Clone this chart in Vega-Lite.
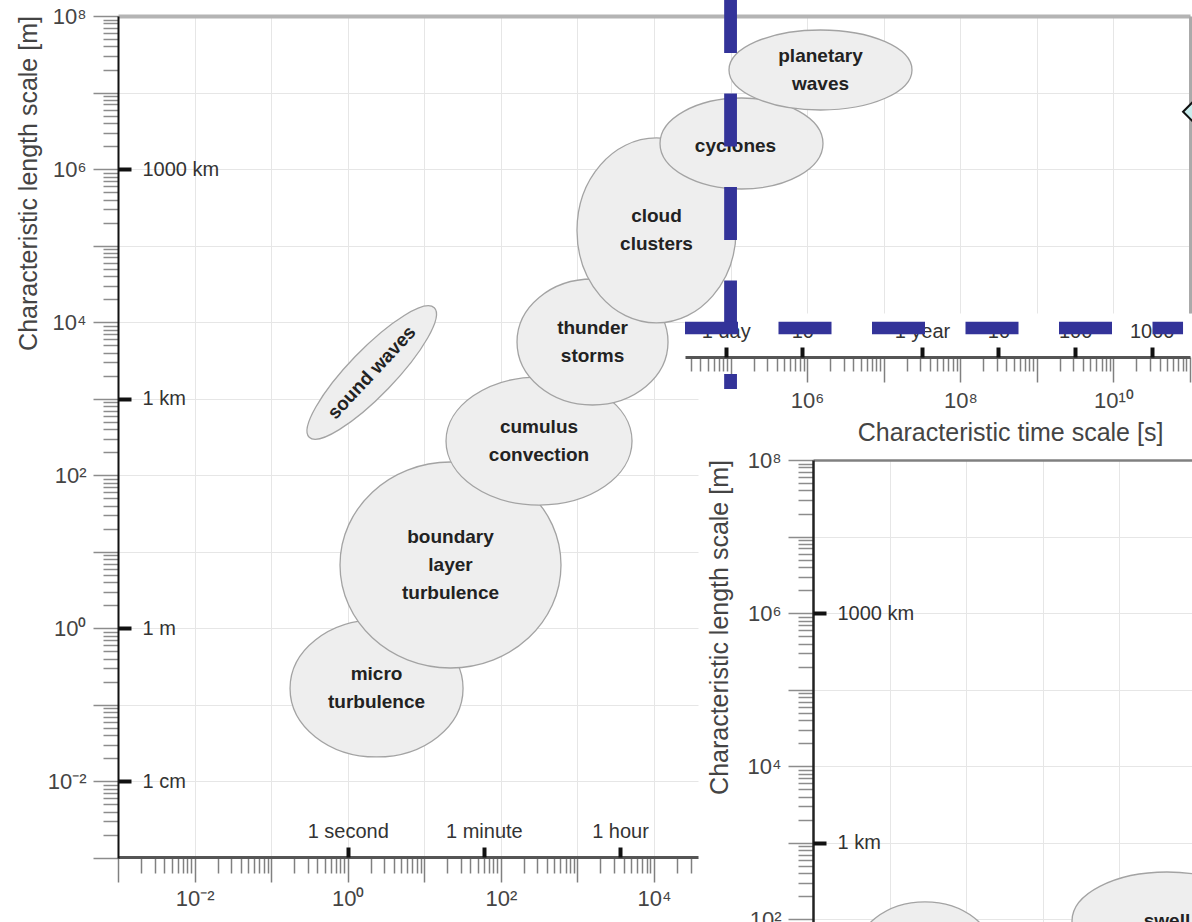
{
  "$schema": "https://vega.github.io/schema/vega-lite/v6.json",
  "width": 1192,
  "height": 922,
  "autosize": {"type": "none"},
  "padding": 0,
  "background": "white",
  "config": {
    "view": {"stroke": null},
    "font": "Liberation Sans",
    "axis": {"labelFont": "Liberation Sans", "titleFont": "Liberation Sans", "labelFlush": false, "labelOverlap": false}
  },
  "datasets": {
    "atmos": [
      {"name": "sound waves", "label": "sound waves", "t": 2.06, "l": 2200},
      {"name": "micro turbulence", "label": "micro\nturbulence", "t": 2.38, "l": 0.164},
      {"name": "boundary layer turbulence", "label": "boundary\nlayer\nturbulence", "t": 22.0, "l": 6.73},
      {"name": "cumulus convection", "label": "cumulus\nconvection", "t": 315, "l": 280},
      {"name": "thunder storms", "label": "thunder\nstorms", "t": 1574, "l": 5510},
      {"name": "cloud clusters", "label": "cloud\nclusters", "t": 10780, "l": 157800},
      {"name": "cyclones", "label": "cyclones", "t": 138900, "l": 2159000},
      {"name": "planetary waves", "label": "planetary\nwaves", "t": 1494000, "l": 19710000}
    ],
    "ocean": [
      {"name": "wind waves", "label": "", "t": 0.029, "l": 32.2},
      {"name": "swell", "label": "swell", "t": 42, "l": 95}
    ],
    "marker": [{"t": 120000000000, "l": 5620000}],
    "guideV": [{"t": 100000, "top": 161800000, "bottom": 1340}],
    "guideH": [{"start": 25410, "end": 81100000000, "l": 8395}]
  },
  "resolve": {
    "scale": {"x": "independent", "y": "independent", "shape": "independent"},
    "axis": {"x": "independent", "y": "independent"}
  },
  "layer": [
    {
      "data": {"name": "atmos"},
      "mark": {"type": "point", "filled": true, "fill": "#eeeeee", "stroke": "#a3a3a3", "strokeWidth": 1.3, "opacity": 1, "size": 4},
      "encoding": {
        "x": {
          "field": "t", "type": "quantitative",
          "scale": {"type": "log", "domain": [0.001, 37550], "range": [118, 698], "nice": false},
          "axis": {
            "orient": "top", "offset": -16,
            "values": [0.001, 0.01, 0.1, 1, 10, 100, 1000, 10000],
            "domain": false, "ticks": false, "labels": false,
            "grid": true, "gridColor": "#e6e6e6", "gridWidth": 1,
            "title": null
          }
        },
        "y": {
          "field": "l", "type": "quantitative",
          "scale": {"type": "log", "domain": [0.001, 100000000], "range": [858, 16], "nice": false},
          "axis": {
            "orient": "left", "offset": -118, "tickCount": 30,
            "domain": true, "domainColor": "#111111", "domainWidth": 2,
            "ticks": true, "tickColor": "#8c8c8c", "tickWidth": 1.5,
            "tickSize": {"condition": {"test": "abs(log(datum.value) / LN10 - round(log(datum.value) / LN10)) < 0.001", "value": 25}, "value": 15},
            "labelExpr": "datum.value == 100000000 ? '10⁸' : datum.value == 1000000 ? '10⁶' : datum.value == 10000 ? '10⁴' : datum.value == 100 ? '10²' : datum.value == 1 ? '10⁰' : datum.value == 0.01 ? '10⁻²' : ''",
            "labelFontSize": 22, "labelColor": "#444444", "labelPadding": 7, "labelBaseline": "middle",
            "grid": true, "gridColor": "#e6e6e6", "gridWidth": 1,
            "gridOpacity": {"condition": {"test": "abs(log(datum.value) / LN10 - round(log(datum.value) / LN10)) < 0.001", "value": 1}, "value": 0},
            "title": "Characteristic length scale [m]", "titleFontSize": 25, "titleFontWeight": "normal", "titleColor": "#444444",
            "titleX": -90, "titleY": 183, "titleAngle": 270, "titleBaseline": "middle"
          }
        },
        "shape": {
          "field": "name", "type": "nominal", "legend": null,
          "scale": {
            "domain": ["sound waves", "micro turbulence", "boundary layer turbulence", "cumulus convection", "thunder storms", "cloud clusters", "cyclones", "planetary waves"],
            "range": [
              "M-90,0A90,23 0 1 0 90,0A90,23 0 1 0 -90,0Z",
              "M-86.5,0A86.5,68.5 0 1 0 86.5,0A86.5,68.5 0 1 0 -86.5,0Z",
              "M-110.5,0A110.5,103 0 1 0 110.5,0A110.5,103 0 1 0 -110.5,0Z",
              "M-93,0A93,64 0 1 0 93,0A93,64 0 1 0 -93,0Z",
              "M-75.5,0A75.5,63 0 1 0 75.5,0A75.5,63 0 1 0 -75.5,0Z",
              "M-79.5,0A79.5,92.5 0 1 0 79.5,0A79.5,92.5 0 1 0 -79.5,0Z",
              "M-81.5,0A81.5,45.5 0 1 0 81.5,0A81.5,45.5 0 1 0 -81.5,0Z",
              "M-91.5,0A91.5,40 0 1 0 91.5,0A91.5,40 0 1 0 -91.5,0Z"
            ]
          }
        },
        "angle": {"condition": {"test": "datum.name === 'sound waves'", "value": -46}, "value": 0}
      }
    },
    {
      "data": {"name": "atmos"},
      "transform": [{"filter": {"field": "name", "oneOf": ["micro turbulence", "cumulus convection", "thunder storms", "cloud clusters", "planetary waves"]}}],
      "mark": {"type": "text", "font": "Liberation Sans", "fontWeight": "bold", "fontSize": 19, "lineHeight": 28, "lineBreak": "\n", "align": "center", "baseline": "middle", "dy": -14, "color": "#222222"},
      "encoding": {
        "x": {
          "field": "t", "type": "quantitative",
          "scale": {"type": "log", "domain": [0.001, 37550], "range": [118, 698], "nice": false},
          "axis": {
            "orient": "bottom", "offset": -65, "tickCount": 30,
            "domain": true, "domainColor": "#555555", "domainWidth": 3,
            "ticks": true, "tickColor": "#808080", "tickWidth": 1.5,
            "tickSize": {"condition": {"test": "abs(log(datum.value) / LN10 - round(log(datum.value) / LN10)) < 0.001", "value": 25}, "value": 16},
            "labelExpr": "datum.value == 0.01 ? '10⁻²' : datum.value == 1 ? '10⁰' : datum.value == 100 ? '10²' : datum.value == 10000 ? '10⁴' : ''",
            "labelFontSize": 22, "labelColor": "#444444", "labelPadding": 6,
            "grid": false,
            "title": null
          }
        },
        "y": {
          "field": "l", "type": "quantitative",
          "scale": {"type": "log", "domain": [0.001, 100000000], "range": [858, 16], "nice": false},
          "axis": {
            "orient": "right", "offset": -1074, "values": [1000000, 1000, 1, 0.01],
            "labelExpr": "datum.value == 1000000 ? '1000 km' : datum.value == 1000 ? '1 km' : datum.value == 1 ? '1 m' : '1 cm'",
            "domain": false, "grid": false,
            "ticks": true, "tickSize": 13, "tickWidth": 4, "tickColor": "#111111",
            "labelFontSize": 20, "labelColor": "#333333", "labelPadding": 11, "labelBaseline": "middle",
            "title": null
          }
        },
        "text": {"field": "label", "type": "nominal"}
      }
    },
    {
      "data": {"name": "atmos"},
      "transform": [{"filter": {"field": "name", "oneOf": ["boundary layer turbulence"]}}],
      "mark": {"type": "text", "font": "Liberation Sans", "fontWeight": "bold", "fontSize": 19, "lineHeight": 28, "lineBreak": "\n", "align": "center", "baseline": "middle", "dy": -28, "color": "#222222"},
      "encoding": {
        "x": {
          "field": "t", "type": "quantitative",
          "scale": {"type": "log", "domain": [0.001, 37550], "range": [118, 698], "nice": false},
          "axis": {
            "orient": "top", "offset": -857, "values": [1, 60, 3600],
            "labelExpr": "datum.value == 1 ? '1 second' : datum.value == 60 ? '1 minute' : '1 hour'",
            "domain": false, "grid": false,
            "ticks": true, "tickSize": 10, "tickWidth": 4, "tickColor": "#111111",
            "labelFontSize": 20, "labelColor": "#333333", "labelPadding": 6,
            "title": null
          }
        },
        "y": {
          "field": "l", "type": "quantitative",
          "scale": {"type": "log", "domain": [0.001, 100000000], "range": [858, 16], "nice": false},
          "axis": null
        },
        "text": {"field": "label", "type": "nominal"}
      }
    },
    {
      "data": {"name": "atmos"},
      "transform": [{"filter": {"field": "name", "oneOf": ["cyclones"]}}],
      "mark": {"type": "text", "font": "Liberation Sans", "fontWeight": "bold", "fontSize": 19, "align": "center", "baseline": "middle", "dx": -6, "dy": 2.5, "color": "#222222"},
      "encoding": {
        "x": {
          "field": "t", "type": "quantitative",
          "scale": {"type": "log", "domain": [0.001, 37550], "range": [118, 698], "nice": false},
          "axis": null
        },
        "y": {
          "field": "l", "type": "quantitative",
          "scale": {"type": "log", "domain": [0.001, 100000000], "range": [858, 16], "nice": false},
          "axis": null
        },
        "text": {"field": "label", "type": "nominal"}
      }
    },
    {
      "data": {"name": "atmos"},
      "transform": [{"filter": {"field": "name", "oneOf": ["sound waves"]}}],
      "mark": {"type": "text", "font": "Liberation Sans", "fontWeight": "bold", "fontSize": 19, "align": "center", "baseline": "middle", "angle": 313, "color": "#222222"},
      "encoding": {
        "x": {
          "field": "t", "type": "quantitative",
          "scale": {"type": "log", "domain": [0.001, 37550], "range": [118, 698], "nice": false},
          "axis": null
        },
        "y": {
          "field": "l", "type": "quantitative",
          "scale": {"type": "log", "domain": [0.001, 100000000], "range": [858, 16], "nice": false},
          "axis": null
        },
        "text": {"field": "label", "type": "nominal"}
      }
    },
    {
      "data": {"name": "ocean"},
      "mark": {"type": "point", "filled": true, "fill": "#eeeeee", "stroke": "#a3a3a3", "strokeWidth": 1.3, "opacity": 1, "size": 4},
      "encoding": {
        "x": {
          "field": "t", "type": "quantitative",
          "scale": {"type": "log", "domain": [0.001, 89.07], "range": [813, 1192], "nice": false},
          "axis": {
            "orient": "top", "offset": -460, "values": [0.001, 0.01, 0.1, 1, 10],
            "ticks": false, "labels": false,
            "domain": true, "domainColor": "#808080", "domainWidth": 2.5,
            "grid": true, "gridColor": "#e6e6e6", "gridWidth": 1,
            "title": null
          }
        },
        "y": {
          "field": "l", "type": "quantitative",
          "scale": {"type": "log", "domain": [92.2, 100000000], "range": [922, 460], "nice": false},
          "axis": {
            "orient": "left", "offset": -813, "tickCount": 30,
            "domain": true, "domainColor": "#222222", "domainWidth": 2.5,
            "ticks": true, "tickColor": "#8c8c8c", "tickWidth": 1.5,
            "tickSize": {"condition": {"test": "abs(log(datum.value) / LN10 - round(log(datum.value) / LN10)) < 0.001", "value": 25}, "value": 15},
            "labelExpr": "datum.value == 100000000 ? '10⁸' : datum.value == 1000000 ? '10⁶' : datum.value == 10000 ? '10⁴' : datum.value == 100 ? '10²' : ''",
            "labelFontSize": 22, "labelColor": "#444444", "labelPadding": 7, "labelBaseline": "middle",
            "grid": true, "gridColor": "#e6e6e6", "gridWidth": 1,
            "gridOpacity": {"condition": {"test": "abs(log(datum.value) / LN10 - round(log(datum.value) / LN10)) < 0.001", "value": 1}, "value": 0},
            "title": "Characteristic length scale [m]", "titleFontSize": 25, "titleFontWeight": "normal", "titleColor": "#444444",
            "titleX": -94, "titleY": 627, "titleAngle": 270, "titleBaseline": "middle"
          }
        },
        "shape": {
          "field": "name", "type": "nominal", "legend": null,
          "scale": {
            "domain": ["wind waves", "swell"],
            "range": [
              "M-70,0A70,55 0 1 0 70,0A70,55 0 1 0 -70,0Z",
              "M-95,0A95,49 0 1 0 95,0A95,49 0 1 0 -95,0Z"
            ]
          }
        }
      }
    },
    {
      "data": {"name": "ocean"},
      "mark": {"type": "text", "font": "Liberation Sans", "fontWeight": "bold", "fontSize": 19, "align": "center", "baseline": "middle", "color": "#222222"},
      "encoding": {
        "x": {
          "field": "t", "type": "quantitative",
          "scale": {"type": "log", "domain": [0.001, 89.07], "range": [813, 1192], "nice": false},
          "axis": null
        },
        "y": {
          "field": "l", "type": "quantitative",
          "scale": {"type": "log", "domain": [92.2, 100000000], "range": [922, 460], "nice": false},
          "axis": {
            "orient": "right", "offset": -379, "values": [1000000, 1000, 1],
            "labelExpr": "datum.value == 1000000 ? '1000 km' : datum.value == 1000 ? '1 km' : '1 m'",
            "domain": false, "grid": false,
            "ticks": true, "tickSize": 13, "tickWidth": 4, "tickColor": "#111111",
            "labelFontSize": 20, "labelColor": "#333333", "labelPadding": 11, "labelBaseline": "middle",
            "title": null
          }
        },
        "text": {"field": "label", "type": "nominal"}
      }
    },
    {
      "data": {"name": "marker"},
      "mark": {"type": "point", "shape": "diamond", "size": 676, "filled": true, "fill": "#c8ecec", "stroke": "#111111", "strokeWidth": 2, "opacity": 1},
      "encoding": {
        "x": {
          "field": "t", "type": "quantitative",
          "scale": {"type": "log", "domain": [0.001, 100000000000], "range": [118, 1190], "nice": false},
          "axis": {
            "orient": "top", "offset": -16,
            "values": [0.001, 0.01, 0.1, 1, 10, 100, 1000, 10000, 100000, 1000000, 10000000, 100000000, 1000000000, 10000000000, 100000000000],
            "ticks": false, "labels": false,
            "domain": true, "domainColor": "#b4b4b4", "domainWidth": 4,
            "grid": true, "gridColor": "#e6e6e6", "gridWidth": 1,
            "title": null
          }
        },
        "y": {
          "field": "l", "type": "quantitative",
          "scale": {"type": "log", "domain": [13183, 100000000], "range": [313, 16], "nice": false},
          "axis": {
            "orient": "left", "offset": -1190,
            "values": [100000, 1000000, 10000000, 100000000],
            "ticks": false, "labels": false,
            "domain": true, "domainColor": "#aaaaaa", "domainWidth": 3,
            "grid": true, "gridColor": "#e6e6e6", "gridWidth": 1,
            "title": null
          }
        }
      }
    },
    {
      "data": {"name": "guideV"},
      "mark": {"type": "rule", "color": "#333399", "strokeWidth": 12.8, "strokeDash": [53, 40.5], "strokeCap": "butt", "opacity": 1},
      "encoding": {
        "x": {
          "field": "t", "type": "quantitative",
          "scale": {"type": "log", "domain": [25410, 100000000000], "range": [685, 1190], "nice": false},
          "axis": {
            "orient": "bottom", "offset": -565, "tickCount": 30,
            "domain": true, "domainColor": "#555555", "domainWidth": 3,
            "ticks": true, "tickColor": "#808080", "tickWidth": 1.5,
            "tickSize": {"condition": {"test": "abs(log(datum.value) / LN10 - round(log(datum.value) / LN10)) < 0.001", "value": 25}, "value": 14},
            "labelExpr": "datum.value == 1000000 ? '10⁶' : datum.value == 100000000 ? '10⁸' : datum.value == 10000000000 ? '10¹⁰' : ''",
            "labelFontSize": 22, "labelColor": "#444444", "labelPadding": 8,
            "grid": false,
            "title": "Characteristic time scale [s]", "titleFontSize": 25, "titleFontWeight": "normal", "titleColor": "#444444",
            "titleX": 1010, "titleY": 75, "titleBaseline": "middle"
          }
        },
        "y": {
          "field": "top", "type": "quantitative",
          "scale": {"type": "log", "domain": [13183, 100000000], "range": [313, 16], "nice": false},
          "axis": null
        },
        "y2": {"field": "bottom"}
      }
    },
    {
      "data": {"name": "guideH"},
      "mark": {"type": "rule", "color": "#333399", "strokeWidth": 12.6, "strokeDash": [53, 40.5], "strokeCap": "butt", "opacity": 1},
      "encoding": {
        "x": {
          "field": "start", "type": "quantitative",
          "scale": {"type": "log", "domain": [25410, 100000000000], "range": [685, 1190], "nice": false},
          "axis": {
            "orient": "top", "offset": -357,
            "values": [86400, 864000, 31557600, 315576000, 3155760000, 31557600000],
            "labelExpr": "datum.value == 86400 ? '1 day' : datum.value == 864000 ? '10' : datum.value == 31557600 ? '1 year' : datum.value == 315576000 ? '10' : datum.value == 3155760000 ? '100' : '1000'",
            "domain": false, "grid": false,
            "ticks": true, "tickSize": 10, "tickWidth": 4, "tickColor": "#111111",
            "labelFontSize": 20, "labelColor": "#333333", "labelPadding": 6,
            "title": null
          }
        },
        "x2": {"field": "end"},
        "y": {
          "field": "l", "type": "quantitative",
          "scale": {"type": "log", "domain": [13183, 100000000], "range": [313, 16], "nice": false},
          "axis": null
        }
      }
    }
  ]
}
